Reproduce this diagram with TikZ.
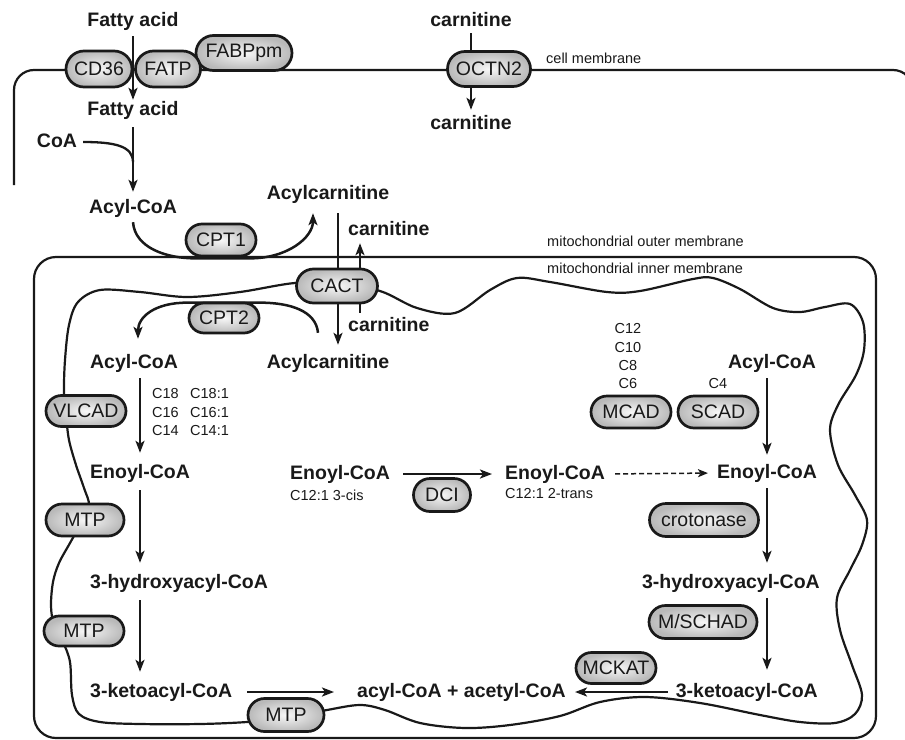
\documentclass[tikz,border=0pt]{standalone}
\usepackage{fontspec}
\setmainfont{Liberation Sans}
\usetikzlibrary{arrows.meta,shapes.misc,backgrounds}
\definecolor{ink}{gray}{0.1}
\tikzset{
  enz/.style={rounded rectangle, draw=ink, line width=2.7pt, inner color=gray!6, outer color=gray!55, minimum height=34pt, inner sep=0pt, font=\fontsize{19.5}{21}\selectfont, text=ink},
  met/.style={anchor=base, inner sep=0pt, text height=14pt, text depth=4pt, font=\bfseries\fontsize{19.5}{21}\selectfont, text=ink},
  sml/.style={anchor=base, inner sep=0pt, text height=10.5pt, text depth=3pt, font=\fontsize{14.5}{16}\selectfont, text=ink},
  rx/.style={draw=ink, line width=2.5pt, -{Stealth[length=12pt,width=9pt,inset=3pt]}},
  mem/.style={draw=ink, line width=2.2pt},
}
\begin{document}
\begin{tikzpicture}[x=1pt,y=-1pt]
\useasboundingbox (0,0) rectangle (905,739);
\clip (0,0) rectangle (905,739);
% membranes
\draw[mem, rounded corners=20pt] (14,185) -- (14,70) -- (913,70) -- (913,200);
\draw[mem, rounded corners=22pt] (34,257) rectangle (876,738);
\draw[mem] plot[smooth cycle, tension=0.55] coordinates {
 (100,290) (140,292) (187,297) (240,292) (295,283) (337,284) (380,291) (417,308) (455,313)
 (490,290) (517,278) (550,282) (607,292) (640,291) (693,279) (713,278) (740,289) (773,308)
 (800,312) (825,307) (850,304) (863,322) (864,350) (856,375) (838,405) (830,430) (838,465)
 (855,495) (867,520) (862,545) (850,570) (837,598) (840,630) (852,665) (862,695) (855,714)
 (835,723) (800,722) (760,715) (700,703) (645,697) (600,702) (560,716) (510,725) (465,728)
 (420,723) (385,710) (360,705) (327,710) (286,718) (247,722) (200,724) (140,724) (100,722)
 (79,714) (72,695) (70,662) (63,642) (54,625) (51,606) (53,582) (59,563) (70,543) (80,525)
 (89,506) (84,488) (76,465) (69,440) (66,415) (64,392) (65,360) (69,325) (78,302)};
% enzymes
\node[enz, minimum width=96pt, minimum height=35pt] (fabp) at (244,53) {FABPpm};
\node[enz, minimum width=66pt, minimum height=36pt] (cd36) at (99,69) {CD36};
\node[enz, minimum width=65pt, minimum height=36pt] (fatp) at (168,69) {FATP};
\node[enz, minimum width=83pt, minimum height=35pt] (octn) at (489,69) {OCTN2};
\node[enz, minimum width=70pt, minimum height=32pt] (cpt1) at (221,240) {CPT1};
\node[enz, minimum width=81pt, minimum height=34pt] (cact) at (337,286) {CACT};
\node[enz, minimum width=70pt, minimum height=30pt] (cpt2) at (224,318) {CPT2};
\node[enz, minimum width=80pt, minimum height=31pt] (vlcad) at (86,411) {VLCAD};
\node[enz, minimum width=78pt, minimum height=32pt] (mtpa) at (85,520) {MTP};
\node[enz, minimum width=80pt, minimum height=30pt] (mtpb) at (84,631) {MTP};
\node[enz, minimum width=76pt, minimum height=33pt] (mtpc) at (286,715) {MTP};
\node[enz, minimum width=57pt, minimum height=33pt] (dci) at (442,495) {DCI};
\node[enz, minimum width=80pt, minimum height=32pt] (mcad) at (631,412) {MCAD};
\node[enz, minimum width=80pt, minimum height=32pt] (scad) at (718,412) {SCAD};
\node[enz, minimum width=109pt, minimum height=33pt] (crot) at (704,520) {crotonase};
\node[enz, minimum width=108pt, minimum height=33pt] (msch) at (703,622) {M/SCHAD};
\node[enz, minimum width=80pt, minimum height=31pt] (mckat) at (616,668) {MCKAT};
% metabolites
\node[met] (fa1) at (133,26) {Fatty acid};
\node[met] (fa2) at (133,115) {Fatty acid};
\node[met] (coa) at (57,147) {CoA};
\node[met] (carn1) at (471,26) {carnitine};
\node[met] (carn2) at (471,129) {carnitine};
\node[met] (acyl1) at (133,213) {Acyl-CoA};
\node[met] (acylc1) at (328,199) {Acylcarnitine};
\node[met, anchor=base west] (carn3) at (348,235) {carnitine};
\node[met, anchor=base west] (carn4) at (348,331) {carnitine};
\node[met] (acyl2) at (134,368) {Acyl-CoA};
\node[met] (acylc2) at (328,368) {Acylcarnitine};
\node[met] (acyl3) at (772,368) {Acyl-CoA};
\node[met] (enoyl1) at (140,478) {Enoyl-CoA};
\node[met, anchor=base west] (enoylA) at (290,479) {Enoyl-CoA};
\node[met, anchor=base west] (enoylB) at (505,479) {Enoyl-CoA};
\node[met] (enoyl3) at (767,478) {Enoyl-CoA};
\node[met, anchor=base west] (hyd1) at (90,588) {3-hydroxyacyl-CoA};
\node[met, anchor=base east] (hyd2) at (820,588) {3-hydroxyacyl-CoA};
\node[met, anchor=base west] (keto1) at (90,697) {3-ketoacyl-CoA};
\node[met, anchor=base west] (prod) at (357,697) {acyl-CoA + acetyl-CoA};
\node[met, anchor=base east] (keto2) at (818,697) {3-ketoacyl-CoA};
% small labels
\node[sml, anchor=base west] (cellm) at (546,63) {cell membrane};
\node[sml, anchor=base west] (outm) at (547,246) {mitochondrial outer membrane};
\node[sml, anchor=base west] (innm) at (547,273) {mitochondrial inner membrane};
\node[sml, anchor=base west] (c18) at (152,398) {C18};
\node[sml, anchor=base west] (c16) at (152,417) {C16};
\node[sml, anchor=base west] (c14) at (152,435) {C14};
\node[sml, anchor=base west] (c181) at (190,398) {C18:1};
\node[sml, anchor=base west] (c161) at (190,417) {C16:1};
\node[sml, anchor=base west] (c141) at (190,435) {C14:1};
\node[sml] (c12) at (628,333) {C12};
\node[sml] (c10) at (628,352) {C10};
\node[sml] (c8) at (628,370) {C8};
\node[sml] (c6) at (628,388) {C6};
\node[sml] (c4) at (718,388) {C4};
\node[sml, anchor=base west] (cis) at (290,500) {C12:1 3-cis};
\node[sml, anchor=base west] (trans) at (505,498) {C12:1 2-trans};
% connectors behind enzymes
\begin{scope}[on background layer]
\draw[rx, shorten <=3pt, shorten >=5pt] (carn1.south) -- (carn2.north);
\draw[rx, shorten <=10pt, shorten >=9pt] ([xshift=10pt]acylc1.south) -- ([xshift=10pt]acylc2.north);
\draw[rx, shorten <=4pt, shorten >=4pt] ([xshift=12pt]carn4.north west) -- ([xshift=12pt]carn3.south west);
\coordinate (c1s) at ([yshift=-5pt]acyl1.south);
\coordinate (c1e) at ([xshift=-15pt,yshift=-10pt]acylc1.south);
\draw[rx] (c1s) .. controls +(2,26) and +(-28,0) .. ([xshift=-26pt,yshift=-1pt]cpt1.south) -- ([xshift=29pt,yshift=-1pt]cpt1.south) .. controls +(38,0) and +(0,24) .. (c1e);
\coordinate (c2s) at ([xshift=-10pt,yshift=21pt]acylc2.north);
\coordinate (c2e) at ([xshift=4pt,yshift=15pt]acyl2.north);
\draw[rx] (c2s) .. controls +(-2,-22) and +(30,0) .. ([xshift=36pt,yshift=-1pt]cpt2.north) -- ([xshift=-37pt,yshift=-1pt]cpt2.north) .. controls +(-32,0) and +(0,-22) .. (c2e);
\end{scope}
% reactions
\draw[rx, shorten <=6pt, shorten >=1pt] (fa1.south) -- (fa2.north);
\draw[rx, shorten <=8pt, shorten >=7pt] (fa2.south) -- (acyl1.north);
\coordinate (coaj) at ([yshift=-43pt]fa2.south);
\draw[ink, line width=2.3pt] ([xshift=6pt]coa.east) .. controls +(32,0) and +(0,-16) .. (coaj);
\draw[rx, shorten <=6pt, shorten >=11pt] (acyl2.south -| enoyl1.north) -- (enoyl1.north);
\draw[rx, shorten <=8pt, shorten >=11pt] (enoyl1.south) -- (enoyl1.south |- hyd1.north);
\draw[rx, shorten <=8pt, shorten >=11pt] (enoyl1.south |- hyd1.south) -- (enoyl1.south |- keto1.north);
\draw[rx, shorten <=15pt, shorten >=23pt] (keto1.east) -- (prod.west);
\draw[rx, shorten <=8pt, shorten >=9pt] (keto2.west) -- (prod.east);
\draw[rx, shorten <=6pt, shorten >=9pt] (enoyl3.north |- acyl3.south) -- (enoyl3.north);
\draw[rx, shorten <=6pt, shorten >=11pt] (enoyl3.south) -- (enoyl3.south |- hyd2.north);
\draw[rx, shorten <=6pt, shorten >=13pt] (enoyl3.south |- hyd2.south) -- (enoyl3.south |- keto2.north);
\draw[rx, shorten <=13pt, shorten >=13pt] (enoylA.east) -- (enoylB.west);
\draw[draw=ink, line width=1.5pt, dash pattern=on 5pt off 3pt, -{Stealth[length=10pt,width=8pt,inset=2.5pt]}, shorten <=10pt, shorten >=9pt] (enoylB.east) -- (enoyl3.west);
\end{tikzpicture}
\end{document}
